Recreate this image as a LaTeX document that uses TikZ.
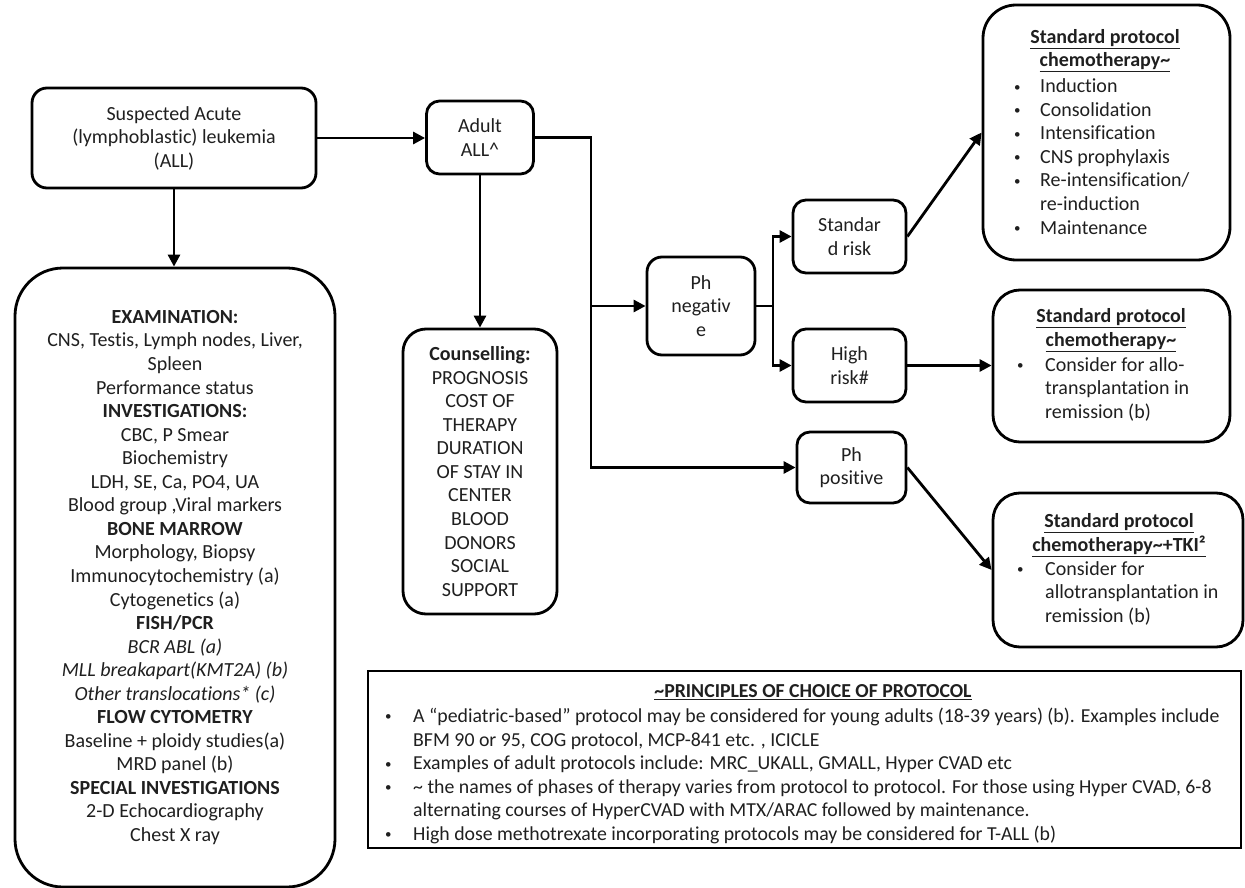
\documentclass[tikz,border=0pt]{standalone}
\usepackage{fontspec}
\setmainfont{Carlito}[Ligatures=NoCommon]
\usetikzlibrary{arrows.meta}
% small list bullet
\newcommand{\lbul}[1]{\makebox[#1][l]{\raisebox{1.6pt}{\fontsize{13}{13}\selectfont •}}}
\begin{document}
\begin{tikzpicture}[x=1pt,y=-1pt,
  font=\fontsize{20}{23.55}\selectfont,
  every node/.style={text=black!88},
  box/.style={draw=black, line width=2.8pt, rounded corners=#1, inner sep=0pt, align=center},
  box/.default=14pt,
  txt/.style={inner sep=0pt, align=left},
  link/.style={line width=2.8pt, -{Triangle[length=12pt,width=12pt]}},
  plain/.style={line width=2.8pt}]
\useasboundingbox (0,0) rectangle (1245,888);

% entry point
\node[box=15pt, minimum width=284pt, minimum height=100pt] (susp) at (174,138)
  {Suspected Acute\\(lymphoblastic) leukemia\\(ALL)};

% work-up
\node[box=48pt, minimum width=320pt, minimum height=619pt] (workup) at (175,577.5)
  {\textbf{EXAMINATION:}\\
   CNS, Testis, Lymph nodes, Liver,\\
   Spleen\\
   Performance status\\
   \textbf{INVESTIGATIONS:}\\
   CBC, P Smear\\
   Biochemistry\\
   LDH, SE, Ca, PO4, UA\\
   Blood group ,Viral markers\\
   \textbf{BONE MARROW}\\
   Morphology, Biopsy\\
   Immunocytochemistry (a)\\
   Cytogenetics (a)\\
   \textbf{FISH/PCR}\\
   \textit{BCR ABL (a)}\\
   \textit{MLL breakapart(KMT2A) (b)}\\
   \textit{Other translocations* (c)}\\
   \textbf{FLOW CYTOMETRY}\\
   Baseline + ploidy studies(a)\\
   MRD panel (b)\\
   \textbf{SPECIAL INVESTIGATIONS}\\
   2-D Echocardiography\\
   Chest X ray};

\node[box=13pt, minimum width=107pt, minimum height=73pt] (adult) at (480,137.5)
  {Adult\\ALL\textasciicircum};

\node[box=23pt, minimum width=154pt, minimum height=285pt] (couns) at (480,471.5)
  {\textbf{Counselling:}\\PROGNOSIS\\COST OF\\THERAPY\\DURATION\\OF STAY IN\\CENTER\\BLOOD\\DONORS\\SOCIAL\\SUPPORT};

\node[box=15pt, minimum width=108pt, minimum height=98pt] (phneg) at (701,306)
  {Ph\\negativ\\e};
\node[box=13pt, minimum width=113pt, minimum height=73pt] (stdrisk) at (849.5,236.5)
  {Standar\\d risk};
\node[box=13pt, minimum width=113pt, minimum height=73pt] (highrisk) at (849.5,365.5)
  {High\\risk\#};
\node[box=13pt, minimum width=109pt, minimum height=71pt] (phpos) at (851.5,467.5)
  {Ph\\positive};

% treatment boxes
\node[box=33pt, minimum width=247pt, minimum height=255pt] (chemoA) at (1106.5,132.5) {};
\node[txt, align=center] (chemoAt) at (1105,50.5)
  {\textbf{\underline{Standard protocol}}\\\textbf{\underline{chemotherapy\textasciitilde}}};
\node[txt, anchor=west] (chemoAl) at (1014,156.5)
  {\lbul{26pt}Induction\\
   \lbul{26pt}Consolidation\\
   \lbul{26pt}Intensification\\
   \lbul{26pt}CNS prophylaxis\\
   \lbul{26pt}Re-intensification/\\
   \hspace*{26pt}re-induction\\
   \lbul{26pt}Maintenance};

\node[box=27pt, minimum width=237pt, minimum height=152pt] (chemoB) at (1111.5,366) {};
\node[txt, align=center] (chemoBt) at (1111,330)
  {\textbf{\underline{Standard protocol}}\\\textbf{\underline{chemotherapy\textasciitilde}}};
\node[txt, anchor=west] (chemoBl) at (1017,389)
  {\lbul{28pt}Consider for allo-\\
   \hspace*{28pt}transplantation in\\
   \hspace*{28pt}remission (b)};

\node[box=27pt, minimum width=250pt, minimum height=154pt] (chemoC) at (1118,570) {};
\node[txt, align=center] (chemoCt) at (1119,535)
  {\textbf{\underline{Standard protocol}}\\\textbf{\underline{chemotherapy\textasciitilde+TKI²}}};
\node[txt, anchor=west] (chemoCl) at (1017,593)
  {\lbul{28pt}Consider for\\
   \hspace*{28pt}allotransplantation in\\
   \hspace*{28pt}remission (b)};

% principles panel
\node[draw=black, line width=2.8pt, inner sep=0pt, minimum width=873pt, minimum height=177pt] (princ) at (804.5,759.5) {};
\node[txt, font=\fontsize{19.8}{23.6}\selectfont] (princT) at (813,692) {\textbf{\underline{\textasciitilde PRINCIPLES OF CHOICE OF PROTOCOL}}};
\node[txt, anchor=west, font=\fontsize{19.8}{23.6}\selectfont] (princL) at (385,776)
  {\lbul{28pt}A “pediatric-based” protocol may be considered for young adults (18-39 years) (b). Examples include\\
   \hspace*{28pt}BFM 90 or 95, COG protocol, MCP-841 etc. , ICICLE\\
   \lbul{28pt}Examples of adult protocols include: MRC\_UKALL, GMALL, Hyper CVAD etc\\
   \lbul{28pt}\textasciitilde{} the names of phases of therapy varies from protocol to protocol. For those using Hyper CVAD, 6-8\\
   \hspace*{28pt}alternating courses of HyperCVAD with MTX/ARAC followed by maintenance.\\
   \lbul{28pt}High dose methotrexate incorporating protocols may be considered for T-ALL (b)};

% junction columns
\coordinate (j1) at (591,0);
\coordinate (j2) at (773,0);

% connectors
\draw[link] (susp.east) -- (susp.east -| adult.west);
\draw[link] (susp.south) -- (susp.south |- workup.north);
\draw[link] (adult.south) -- (adult.south |- couns.north);
\draw[link] (adult.east) -| (j1 |- phpos.west) -- (phpos.west);
\draw[link] (j1 |- phneg.west) -- (phneg.west);
\draw[link] (phneg.east) -- (j2 |- phneg.east) |- (stdrisk.west);
\draw[link] (j2 |- phneg.east) |- (highrisk.west);
\draw[link] (stdrisk.east) -- (chemoA.west);
\draw[link] (highrisk.east) -- (highrisk.east -| chemoB.west);
\draw[link] (phpos.east) -- (chemoC.west);
\end{tikzpicture}
\end{document}
